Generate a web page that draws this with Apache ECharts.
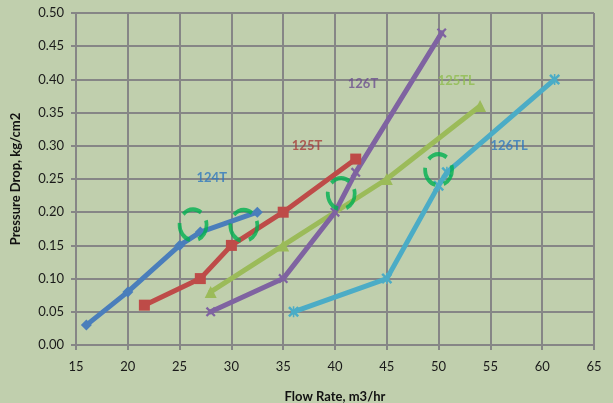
<!DOCTYPE html>
<html>
<head>
<meta charset="utf-8">
<script src="https://cdn.jsdelivr.net/npm/echarts@6/dist/echarts.min.js"></script>
<style>
html,body{margin:0;padding:0;background:#c0cfad;}
#c{width:613px;height:403px;}
</style>
</head>
<body>
<div id="c"></div>
<script>
// ---- data ----
const s124T  = [[16,0.03],[20,0.08],[25,0.15],[27,0.17],[32.5,0.20]];
const s125T  = [[21.6,0.06],[27,0.10],[30,0.15],[35,0.20],[42,0.28]];
const s125TL = [[28,0.08],[35,0.15],[45,0.25],[54,0.36]];
const s126T  = [[28,0.05],[35,0.10],[40,0.20],[42,0.26],[50.3,0.47]];
const s126TL = [[36,0.05],[45,0.10],[50,0.24],[50.8,0.26],[61.2,0.40]];
const ringPoints = [[26.3,0.181],[31.2,0.18],[40.6,0.228],[50.0,0.264]];
const labelTexts = ['124T','125T','126T','125TL','126TL'];
const labelPos = [[28.1,0.252],[37.3,0.30],[42.7,0.394],[51.7,0.398],[56.8,0.30]];
const xTicks = {min:15,max:65,step:5};
const yTicks = {min:0,max:0.5,step:0.05};

// ---- styles ----
const labelColors = ['#2f78bf','#a63c3a','#6b4f8e','#8fbd4e','#2f78bf'];
const FONT = 'Lato, "Open Sans", sans-serif';
const X_PATH = 'path://M0,1.6L1.6,0L5,3.4L8.4,0L10,1.6L6.6,5L10,8.4L8.4,10L5,6.6L1.6,10L0,8.4L3.4,5Z';
const STAR_PATH = 'path://M0,1.6L1.6,0L5,3.4L8.4,0L10,1.6L6.6,5L10,8.4L8.4,10L5,6.6L1.6,10L0,8.4L3.4,5Z M4.3,0L4.3,10L5.7,10L5.7,0Z';

function lineSeries(name, data, color, symbol, size){
  return {
    name, type:'line', data, symbol, symbolSize:size, showSymbol:true,
    lineStyle:{color, width:5, join:'round', cap:'round'},
    itemStyle:{color, borderWidth:0},
    emphasis:{disabled:true}, animation:false, z:2
  };
}

const chart = echarts.init(document.getElementById('c'), null, {renderer:'canvas'});
chart.setOption({
  backgroundColor:'#c0cfad',
  animation:false,
  grid:{left:76,right:19,top:13,bottom:58,containLabel:false,outerBoundsMode:'none'},
  xAxis:{
    type:'value', min:xTicks.min, max:xTicks.max, interval:xTicks.step,
    name:'Flow Rate, m3/hr', nameLocation:'middle', nameGap:45,
    nameTextStyle:{fontFamily:FONT,fontWeight:'bold',fontSize:13,color:'#111'},
    axisLine:{show:true,lineStyle:{color:'#868686',width:2}},
    axisTick:{show:true,length:5,lineStyle:{color:'#868686',width:2}},
    axisLabel:{fontFamily:FONT,fontSize:13,color:'#1a1a1a',margin:15},
    splitLine:{show:true,lineStyle:{color:'#868686',width:2}}
  },
  yAxis:{
    type:'value', min:yTicks.min, max:yTicks.max, interval:yTicks.step,
    name:'Pressure Drop, kg/cm2', nameLocation:'middle', nameGap:54, nameRotate:90,
    nameTextStyle:{fontFamily:FONT,fontWeight:'bold',fontSize:13,color:'#111'},
    axisLine:{show:true,lineStyle:{color:'#868686',width:2}},
    axisTick:{show:true,length:5,lineStyle:{color:'#868686',width:2}},
    axisLabel:{fontFamily:FONT,fontSize:13,color:'#1a1a1a',margin:12,formatter:v=>v.toFixed(2)},
    splitLine:{show:true,lineStyle:{color:'#868686',width:2}}
  },
  series:[
    lineSeries('124T', s124T, '#4a7ebb', 'diamond', 11),
    lineSeries('125T', s125T, '#be4b48', 'rect', 11),
    lineSeries('125TL', s125TL, '#9bbb59', 'triangle', 12),
    lineSeries('126T', s126T, '#7f63a1', X_PATH, 10),
    lineSeries('126TL', s126TL, '#4bacc6', STAR_PATH, 11),
    {
      type:'scatter', data:ringPoints, symbol:'circle', symbolSize:[27,31],
      itemStyle:{color:'rgba(0,0,0,0)', borderColor:'#00b050', borderWidth:4, borderType:[21,9], borderDashOffset:4},
      emphasis:{disabled:true}, z:5, silent:true
    },
    {
      type:'scatter', symbolSize:0,
      data: labelTexts.map((t,i)=>({value:labelPos[i], name:t,
        label:{color:labelColors[i]}})),
      label:{show:true, position:'inside', formatter:p=>p.name,
        fontFamily:FONT, fontWeight:'bold', fontSize:13},
      emphasis:{disabled:true}, z:6, silent:true
    }
  ]
});
</script>
</body>
</html>
